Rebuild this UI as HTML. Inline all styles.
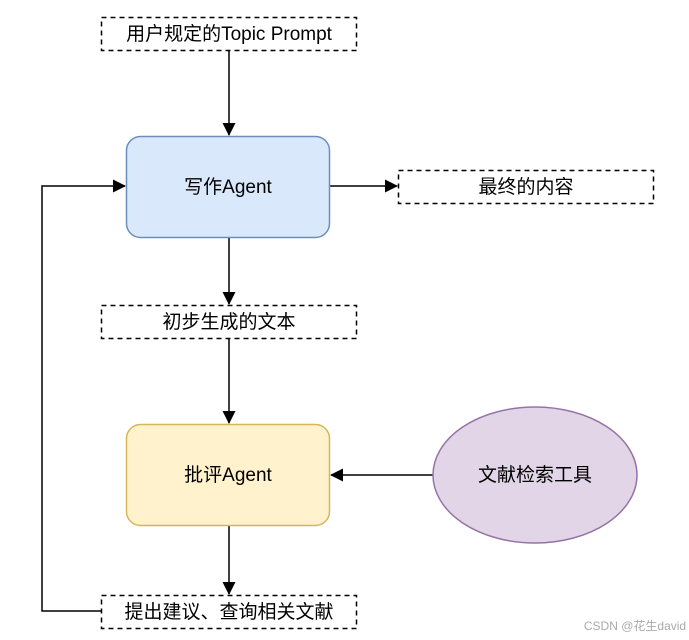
<!DOCTYPE html>
<html><head><meta charset="utf-8"><style>body{margin:0;background:#fff}</style></head><body>
<svg width="689" height="640" xmlns="http://www.w3.org/2000/svg" style="display:block">
<defs><marker id="a" markerWidth="13" markerHeight="13" refX="12" refY="6.5" orient="auto" markerUnits="userSpaceOnUse"><path d="M0,0 L13,6.5 L0,13 Z" fill="#000"/></marker></defs>
<g font-family="Liberation Sans, Noto Sans CJK SC, sans-serif" font-size="19" fill="#000" text-anchor="middle">
<g fill="none" stroke="#000" stroke-width="1.5">
<line x1="229" y1="50" x2="229" y2="135" marker-end="url(#a)"/>
<line x1="330" y1="186" x2="397" y2="186" marker-end="url(#a)"/>
<line x1="229" y1="238" x2="229" y2="304" marker-end="url(#a)"/>
<line x1="229" y1="339" x2="229" y2="423" marker-end="url(#a)"/>
<line x1="433" y1="475" x2="331" y2="475" marker-end="url(#a)"/>
<line x1="229" y1="526" x2="229" y2="594" marker-end="url(#a)"/>
<polyline points="101,611 42,611 42,186 125,186" marker-end="url(#a)"/>
<g stroke-dasharray="5,4">
<rect x="101.5" y="17.5" width="255" height="33"/>
<rect x="398.5" y="170.5" width="255" height="33"/>
<rect x="101.5" y="305.5" width="255" height="33"/>
<rect x="101.5" y="595.5" width="255" height="33"/>
</g>
</g>
<rect x="126.5" y="136.5" width="203" height="101" rx="14" fill="#dae8fc" stroke="#6c8ebf" stroke-width="1.5"/>
<rect x="126.5" y="424.5" width="203" height="101" rx="14" fill="#fff2cc" stroke="#d6b656" stroke-width="1.5"/>
<ellipse cx="535" cy="475" rx="102" ry="68" fill="#e1d5e7" stroke="#9673a6" stroke-width="1.5"/>
<text x="229" y="40">用户规定的Topic Prompt</text>
<text x="228" y="193">写作Agent</text>
<text x="526" y="193">最终的内容</text>
<text x="229" y="328">初步生成的文本</text>
<text x="228" y="481">批评Agent</text>
<text x="535" y="481">文献检索工具</text>
<text x="229" y="618">提出建议、查询相关文献</text>
<text x="635" y="630" font-size="12" fill="#aaa">CSDN @花生david</text>
</g>
</svg>
</body></html>
